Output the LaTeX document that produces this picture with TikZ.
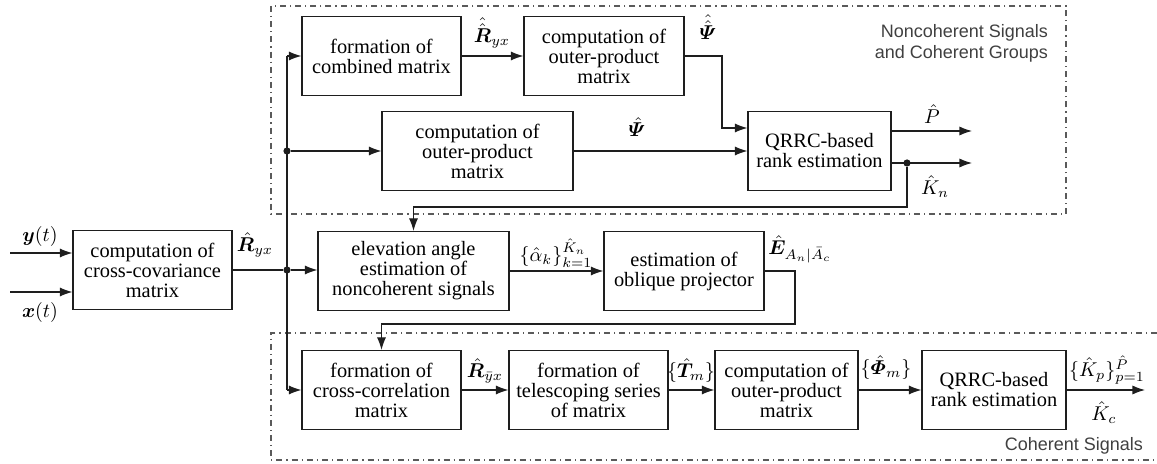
\documentclass[tikz,border=0pt]{standalone}
\usepackage{amsmath,amssymb,bm}
\usepackage{fontspec}
\setmainfont{Liberation Serif}
\setsansfont{Liberation Sans}
\usepackage{tikz}
\usetikzlibrary{arrows.meta,positioning}
\definecolor{flowink}{RGB}{30,30,30}
\definecolor{groupgray}{RGB}{90,90,90}
\tikzset{
  flowblock/.style={draw=flowink, line width=0.6pt, align=center,
    minimum height=39.5pt, inner sep=1pt,
    font=\fontsize{10.2}{10}\selectfont},
  flowarrow/.style={-{Latex[length=2.2mm, width=1.6mm]}, line width=0.6pt, flowink},
  flowline/.style={line width=0.6pt, flowink},
  flowdot/.style={circle, fill=flowink, inner sep=0pt, minimum size=3.6pt},
  flowlabel/.style={inner sep=0.5pt, font=\fontsize{10}{10}\selectfont},
  groupframe/.style={draw=groupgray, line width=0.6pt, dash dot},
  grouptitle/.style={font=\sffamily\fontsize{9}{10.5}\selectfont, align=right,
    text=flowink!85},
}

\begin{document}
\begin{tikzpicture}[x=0.5pt, y=-0.5pt]
  \useasboundingbox (0,0) rectangle (1157,464);
  % signal groups
  \draw[groupframe] (271,6) rectangle (1066,214);
  \draw[groupframe] (1157,333) -- (271,333) -- (271,460) -- (1157,460);
  \node[grouptitle, anchor=north east] (titleA) at (1055,17) {Noncoherent Signals\\and Coherent Groups};
  \node[grouptitle, anchor=east] (titleB) at (1150,446) {Coherent Signals};

  % blocks
  \node[flowblock, minimum width=79.5pt] (ccov) at (152.5,270) {computation of\\cross-covariance\\matrix};
  \node[flowblock, minimum width=79.5pt] (comb) at (381.5,56) {formation of\\combined matrix};
  \node[flowblock, minimum width=80pt] (outerA) at (604,56) {computation of\\outer-product\\matrix};
  \node[flowblock, minimum width=95.5pt] (outerB) at (477.5,151) {computation of\\outer-product\\matrix};
  \node[flowblock, minimum width=71.5pt] (qrrcA) at (819.5,151) {QRRC-based\\rank estimation};
  \node[flowblock, minimum width=95.5pt] (elev) at (413.5,271) {elevation angle\\estimation of\\noncoherent signals};
  \node[flowblock, minimum width=80pt] (oblq) at (684,271) {estimation of\\oblique projector};
  \node[flowblock, minimum width=79.5pt] (xcorr) at (381.5,390) {formation of\\cross-correlation\\matrix};
  \node[flowblock, minimum width=79.5pt] (tele) at (588.5,390) {formation of\\telescoping series\\of matrix};
  \node[flowblock, minimum width=71.5pt] (outerC) at (786.5,390) {computation of\\outer-product\\matrix};
  \node[flowblock, minimum width=72pt] (qrrcB) at (994,390) {QRRC-based\\rank estimation};

  % inputs
  \coordinate (yin) at (10,253);
  \coordinate (xin) at (10,292);
  \draw[flowarrow] (yin) -- (yin -| ccov.west);
  \draw[flowarrow] (xin) -- (xin -| ccov.west);
  \node[flowlabel] (ylab) at (40,237) {$\bm{y}(t)$};
  \node[flowlabel] (xlab) at (40,313) {$\bm{x}(t)$};

  % distribution bus
  \node[flowdot] (jmain) at (287,270) {};
  \node[flowdot] (jmid) at (287,151) {};
  \coordinate (bustop) at (287,56);
  \coordinate (busbot) at (287,390);
  \draw[flowline] (ccov.east) -- (jmain);
  \draw[flowline] (bustop) -- (busbot);
  \draw[flowarrow] (bustop) -- (comb.west);
  \draw[flowarrow] (jmid) -- (outerB.west);
  \draw[flowarrow] (jmain) -- (jmain -| elev.west);
  \draw[flowarrow] (busbot) -- (xcorr.west);
  \node[flowlabel] (rlab) at (255,245) {$\hat{\bm{R}}_{yx}$};

  % noncoherent signals and coherent groups
  \draw[flowarrow] (comb.east) -- (outerA.west);
  \node[flowlabel] (rrlab) at (492,33) {$\hat{\hat{\bm{R}}}_{yx}$};
  \coordinate (psibend) at (722,128);
  \draw[flowarrow] (outerA.east) -| (psibend) -- (psibend -| qrrcA.west);
  \node[flowlabel] (ppsilab) at (708,27) {$\hat{\hat{\bm{\varPsi}}}$};
  \draw[flowarrow] (outerB.east) -- (qrrcA.west);
  \node[flowlabel] (psilab) at (637,127) {$\hat{\bm{\varPsi}}$};
  \coordinate (pout) at (972,131);
  \coordinate (kout) at (972,163);
  \node[flowdot] (jk) at (907,163) {};
  \draw[flowarrow] (pout -| qrrcA.east) -- (pout);
  \draw[flowarrow] (kout -| qrrcA.east) -- (kout);
  \node[flowlabel] (plab) at (932,114) {$\hat{P}$};
  \node[flowlabel] (klab) at (935,187) {$\hat{K}_n$};
  \coordinate (kback) at (907,207);
  \draw[flowarrow] (jk) -- (kback) -| (elev.north);

  % elevation angles and projector
  \draw[flowarrow] (elev.east) -- (oblq.west);
  \node[flowlabel] (alab) at (556,253) {$\{\hat{\alpha}_k\}_{k=1}^{\hat{K}_n}$};
  \coordinate (eback) at (795,324);
  \draw[flowarrow] (oblq.east) -| (eback) -| (xcorr.north);
  \node[flowlabel, anchor=west] (elab) at (767,249) {$\hat{\bm{E}}_{A_n|\bar{A}_c}$};

  % coherent signals
  \draw[flowarrow] (xcorr.east) -- (tele.west);
  \node[flowlabel] (rylab) at (485,371) {$\hat{\bm{R}}_{\bar{y}x}$};
  \draw[flowarrow] (tele.east) -- (outerC.west);
  \node[flowlabel] (tlab) at (691,371) {$\{\hat{\bm{T}}_m\}$};
  \draw[flowarrow] (outerC.east) -- (qrrcB.west);
  \node[flowlabel] (flab) at (886,368) {$\{\hat{\bm{\varPhi}}_m\}$};
  \coordinate (cout) at (1145,390);
  \draw[flowarrow] (qrrcB.east) -- (cout);
  \node[flowlabel] (kplab) at (1107,370) {$\{\hat{K}_p\}_{p=1}^{\hat{P}}$};
  \node[flowlabel] (kclab) at (1104,413) {$\hat{K}_c$};
\end{tikzpicture}
\end{document}
